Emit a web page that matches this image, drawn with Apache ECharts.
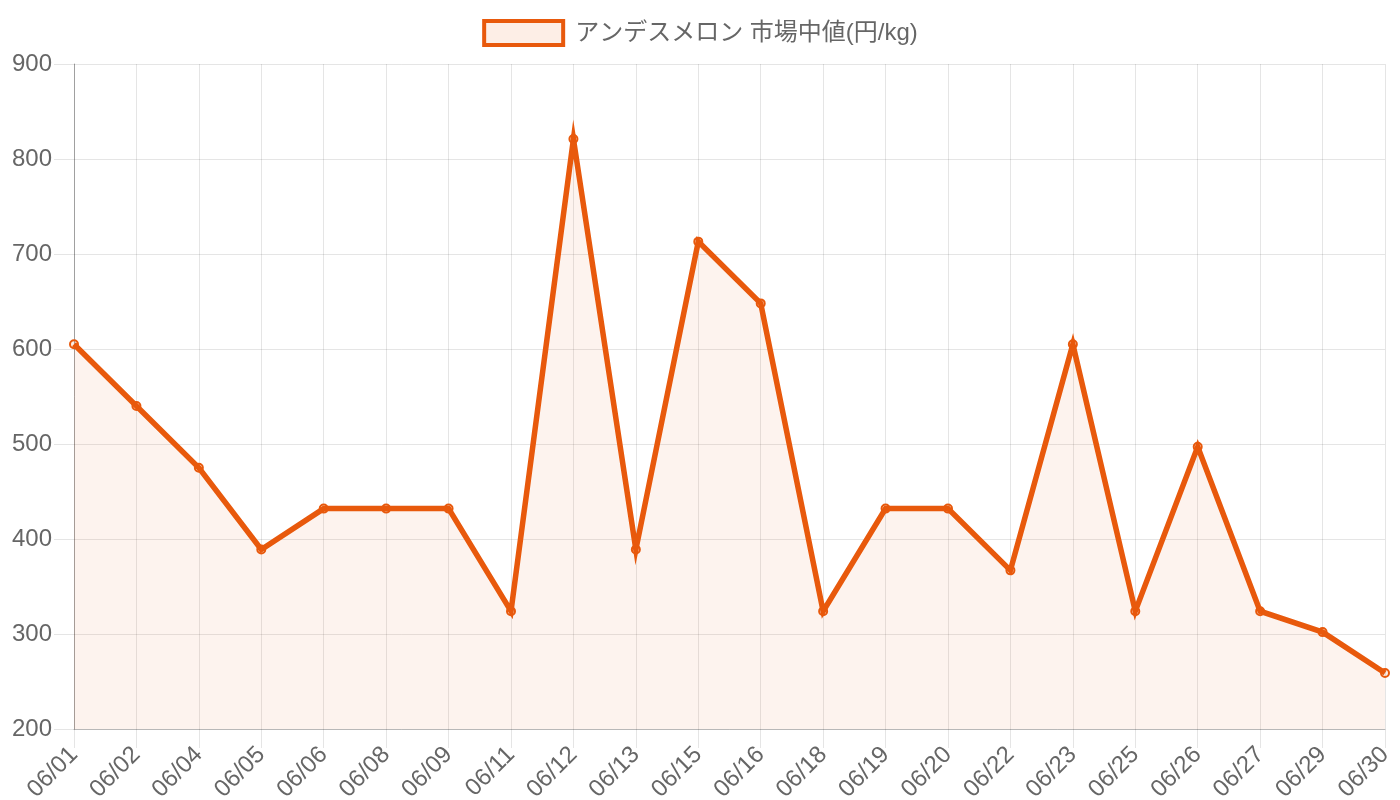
<!DOCTYPE html>
<html><head><meta charset="utf-8">
<script src="https://cdn.jsdelivr.net/npm/echarts@6/dist/echarts.min.js"></script>
<style>html,body{margin:0;padding:0;background:#fff}#c{width:1400px;height:800px}</style>
</head><body><div id="c"></div>
<script>
const categories = ['06/01','06/02','06/04','06/05','06/06','06/08','06/09','06/11','06/12','06/13','06/15','06/16','06/18','06/19','06/20','06/22','06/23','06/25','06/26','06/27','06/29','06/30'];
const prices = [605,540,475,389,432,432,432,324,821,389,713,648,324,432,432,367,605,324,497,324,302,259];
const yTicks = {min:200, max:900, interval:100};
const seriesName = 'アンデスメロン 市場中値(円/kg)';

const chart = echarts.init(document.getElementById('c'));
const font = '"Liberation Sans", "Noto Sans CJK JP", sans-serif';
chart.setOption({
  animation:false,
  textStyle:{fontFamily:font},
  legend:{
    top:14, left:'center', itemWidth:79, itemHeight:24, itemGap:12,
    icon:'rect',
    textStyle:{fontSize:24, color:'#666', fontFamily:font, padding:[0,0,0,7]},
    data:[{name:seriesName, itemStyle:{color:'rgba(232,89,12,0.1)', borderColor:'#E8590C', borderWidth:4}}]
  },
  grid:{left:74, right:15, top:64, bottom:71, containLabel:false, outerBoundsMode:'none'},
  xAxis:{
    type:'category', data:categories, boundaryGap:false,
    axisLine:{show:true, lineStyle:{color:'rgba(0,0,0,0.2)', width:1}},
    axisTick:{show:true, length:19, alignWithLabel:true, lineStyle:{color:'rgba(0,0,0,0.1)'}},
    splitLine:{show:true, lineStyle:{color:'rgba(0,0,0,0.1)', width:1}},
    axisLabel:{rotate:45, fontSize:24, color:'#666', margin:22, interval:0, fontFamily:font}
  },
  yAxis:{
    type:'value', min:yTicks.min, max:yTicks.max, interval:yTicks.interval,
    axisLine:{show:true, lineStyle:{color:'rgba(0,0,0,0.3)', width:1}},
    axisTick:{show:true, length:20, lineStyle:{color:'rgba(0,0,0,0.1)'}},
    splitLine:{show:true, lineStyle:{color:'rgba(0,0,0,0.1)', width:1}},
    axisLabel:{fontSize:24, color:'#666', margin:22, fontFamily:font}
  },
  series:[{
    name:seriesName, type:'line', data:prices,
    symbol:'circle', symbolSize:8, showAllSymbol:true,
    itemStyle:{color:'rgba(232,89,12,0.1)', borderColor:'#E8590C', borderWidth:2},
    lineStyle:{color:'#E8590C', width:5.5, join:'miter', miterLimit:10},
    areaStyle:{color:'rgba(232,89,12,0.1)'}
  }]
});
</script></body></html>
